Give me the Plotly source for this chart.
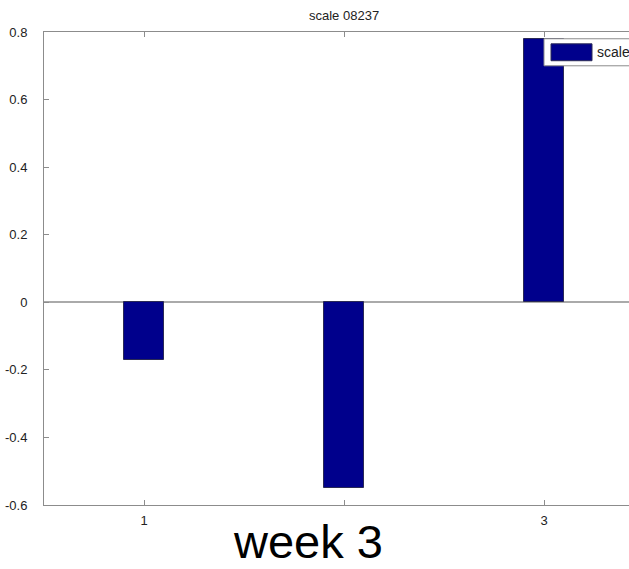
import plotly.graph_objects as go

# Data
categories = [1, 2, 3]
values = [-0.17, -0.55, 0.78]
x_tick_vals = [1, 2, 3]
x_tick_text = ["1", "", "3"]
y_tick_vals = [-0.6, -0.4, -0.2, 0, 0.2, 0.4, 0.6, 0.8]
y_tick_text = ["-0.6", "-0.4", "-0.2", "0", "0.2", "0.4", "0.6", "0.8"]
series_name = "scale"
title_text = "scale 08237"
caption_text = "week 3"

BAR_COLOR = "#00008c"
AXIS_COLOR = "#8c8c8c"
FONT = "Liberation Sans, Arial, sans-serif"

fig = go.Figure()
fig.add_trace(go.Bar(
    x=categories, y=values, width=0.2,
    marker=dict(color=BAR_COLOR, line=dict(color="#2a2a55", width=1)),
    name=series_name, showlegend=False,
))

fig.update_layout(
    width=629, height=569,
    margin=dict(l=44, r=0, t=32, b=64),
    paper_bgcolor="white", plot_bgcolor="white",
    font=dict(family=FONT, size=12, color="#222222"),
    bargap=0,
)

fig.update_xaxes(
    range=[0.5, 3.425], tickmode="array", tickvals=x_tick_vals, ticktext=x_tick_text,
    ticks="inside", ticklen=5, tickcolor=AXIS_COLOR, showline=True, linecolor=AXIS_COLOR,
    linewidth=1, mirror="allticks", showgrid=False, zeroline=False,
    tickfont=dict(size=13, color="#222222"), ticklabelstandoff=3,
)
fig.update_yaxes(
    range=[-0.6, 0.8], tickmode="array", tickvals=y_tick_vals, ticktext=y_tick_text,
    ticks="inside", ticklen=5, tickcolor=AXIS_COLOR, showline=True, linecolor=AXIS_COLOR,
    linewidth=1, mirror=False, showgrid=False, zeroline=True, zerolinecolor="#aaaaaa",
    zerolinewidth=1.5, tickfont=dict(size=13, color="#222222"), ticklabelstandoff=13,
)

# Title over the axes
fig.add_annotation(
    text=title_text, xref="x", x=2, yref="paper", y=1, yshift=7, yanchor="bottom",
    showarrow=False, font=dict(size=13, color="#222222"),
)

# Legend box with a wide swatch
fig.add_shape(type="rect", xref="x", yref="y", x0=3.0, x1=3.6, y0=0.70, y1=0.78,
              line=dict(color=AXIS_COLOR, width=1), fillcolor="white", layer="above")
fig.add_shape(type="rect", xref="x", yref="y", x0=3.035, x1=3.24, y0=0.715, y1=0.765,
              line=dict(color="#2a2a55", width=1), fillcolor=BAR_COLOR, layer="above")
fig.add_annotation(text=series_name, xref="x", x=3.255, yref="y", y=0.74,
                   xanchor="left", showarrow=False, font=dict(size=14, color="#222222"))

# Caption below the chart
fig.add_annotation(
    text=caption_text, xref="paper", x=(308 - 44) / 585, xanchor="center",
    yref="paper", y=0, yshift=-64, yanchor="bottom", borderpad=0,
    showarrow=False, font=dict(size=47, color="black"),
)

fig.write_html("out.html")
